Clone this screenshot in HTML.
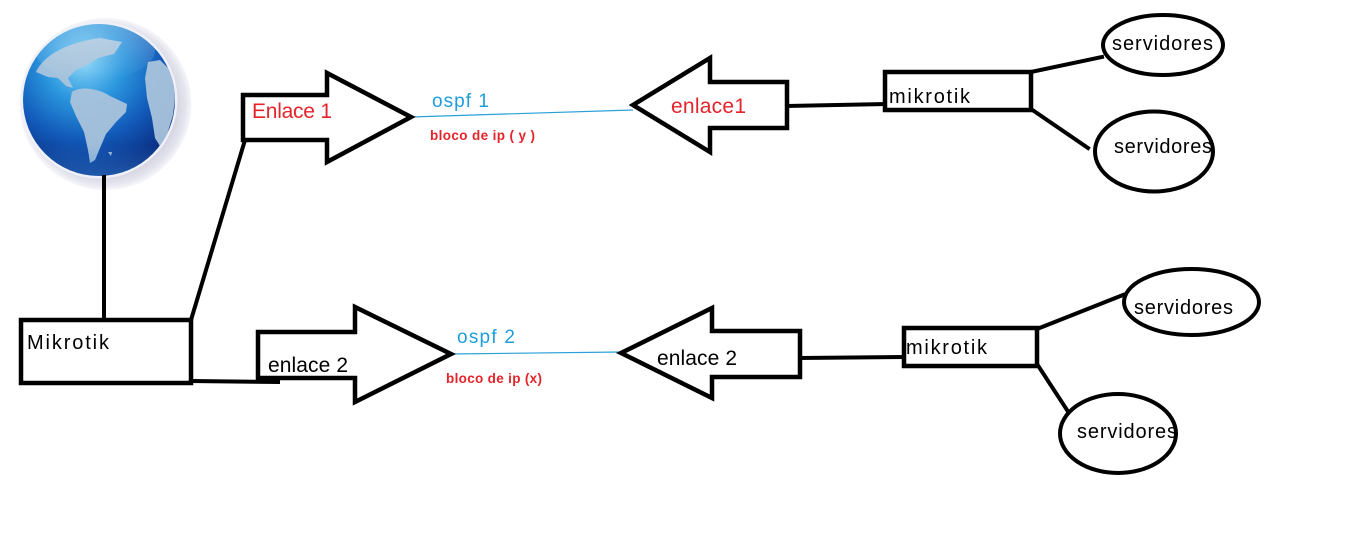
<!DOCTYPE html>
<html>
<head>
<meta charset="utf-8">
<style>
  html, body { margin:0; padding:0; background:#ffffff; }
  body { width:1360px; height:557px; overflow:hidden; }
  svg { display:block; }
  .lbl { font-family: "Liberation Sans", sans-serif; }
</style>
</head>
<body>
<svg width="1360" height="557" viewBox="0 0 1360 557" xmlns="http://www.w3.org/2000/svg">
  <defs>
    <radialGradient id="sph" cx="0.4" cy="0.25" r="0.82">
      <stop offset="0" stop-color="#86d4f7"/>
      <stop offset="0.32" stop-color="#2a96de"/>
      <stop offset="0.62" stop-color="#125ab9"/>
      <stop offset="0.88" stop-color="#0b3288"/>
      <stop offset="1" stop-color="#0a2a74"/>
    </radialGradient>
    <radialGradient id="halo" cx="0.5" cy="0.5" r="0.5">
      <stop offset="0.8" stop-color="#d2d2e0"/>
      <stop offset="0.93" stop-color="#e4e4ee"/>
      <stop offset="1" stop-color="#f6f6fa"/>
    </radialGradient>
    <linearGradient id="gloss" x1="0" y1="0" x2="0" y2="1">
      <stop offset="0" stop-color="#ffffff" stop-opacity="0.3"/>
      <stop offset="1" stop-color="#ffffff" stop-opacity="0"/>
    </linearGradient>
    <linearGradient id="bottomGlow" x1="0" y1="0" x2="0" y2="1">
      <stop offset="0" stop-color="#3a8ee0" stop-opacity="0"/>
      <stop offset="1" stop-color="#3f9ae8" stop-opacity="0.45"/>
    </linearGradient>
    <clipPath id="globeClip"><circle cx="99" cy="100" r="76"/></clipPath>
  </defs>

  <!-- Globe -->
  <circle cx="105.5" cy="104" r="86" fill="url(#halo)"/>
  <circle cx="99" cy="100" r="78.5" fill="#f0f0f8"/>
  <circle cx="99" cy="100" r="76" fill="url(#sph)"/>
  <g clip-path="url(#globeClip)" fill="#a9c3dc" opacity="0.95">
    <path d="M36,72 C44,54 70,42 100,38 L122,42 L114,54 L98,58 L86,66 L76,70 L68,78 L73,88 L66,86 L58,78 L48,77 Z"/>
    <path d="M58,66 L64,64 L68,68 L62,70 Z"/>
    <path d="M72,92 C80,86 98,88 110,96 L127,104 L126,112 L116,122 L106,134 L100,148 L95,160 L90,163 L88,150 L84,132 L76,116 L70,102 Z"/>
    <path d="M148,62 L160,60 L170,70 L176,90 L173,115 L166,138 L160,146 L155,138 L152,118 L147,98 L145,78 Z"/>
    <path d="M108,152 L112,152 L111,156 Z"/>
  </g>
  <g clip-path="url(#globeClip)">
    <ellipse cx="95" cy="50" rx="60" ry="30" fill="url(#gloss)"/>
    <rect x="20" y="145" width="160" height="35" fill="url(#bottomGlow)"/>
  </g>

  <!-- Lines (black connectors) -->
  <g stroke="#000" stroke-width="4" fill="none" stroke-linecap="square">
    <line x1="104" y1="177" x2="104" y2="320"/>
    <line x1="191" y1="320" x2="245" y2="140"/>
    <line x1="191" y1="381" x2="278" y2="382"/>
    <line x1="787" y1="106" x2="885" y2="104"/>
    <line x1="800" y1="358" x2="904" y2="357"/>
    <line x1="1031" y1="72" x2="1102" y2="57"/>
    <line x1="1031" y1="109" x2="1088" y2="148"/>
    <line x1="1037" y1="329" x2="1123" y2="295"/>
    <line x1="1037" y1="364" x2="1067" y2="410"/>
  </g>

  <!-- Blue ospf lines -->
  <g stroke="#29a0d8" stroke-width="1.2" fill="none">
    <line x1="411" y1="117" x2="633" y2="110"/>
    <line x1="451" y1="354" x2="621" y2="352"/>
  </g>

  <!-- Boxes -->
  <g stroke="#000" stroke-width="4.5" fill="#fff">
    <rect x="21" y="320" width="170" height="63"/>
    <rect x="885" y="72" width="146" height="38"/>
    <rect x="904" y="328" width="133" height="38"/>
  </g>

  <!-- Block arrows -->
  <g stroke="#000" stroke-width="4.5" fill="#fff" stroke-linejoin="miter" stroke-miterlimit="10">
    <polygon points="243,95 327,95 327,73 411,117 327,162 327,140 243,140"/>
    <polygon points="633,105 710,58 710,82 787,82 787,128 710,128 710,152"/>
    <polygon points="258,332 355,332 355,307 451,354 355,402 355,378 258,378"/>
    <polygon points="621,353 712,308 712,331 800,331 800,377 712,377 712,398"/>
  </g>

  <!-- Ellipses -->
  <g stroke="#000" stroke-width="4" fill="#fff">
    <ellipse cx="1163" cy="45" rx="60" ry="30"/>
    <ellipse cx="1154" cy="151.5" rx="59" ry="40"/>
    <ellipse cx="1191.5" cy="302" rx="67.5" ry="33"/>
    <ellipse cx="1118" cy="433.5" rx="58" ry="39.5"/>
  </g>

  <!-- Labels -->
  <g class="lbl" font-family="Liberation Sans, sans-serif">
    <text x="27" y="349" font-size="20" fill="#000" textLength="82" lengthAdjust="spacing">Mikrotik</text>
    <text x="252" y="118" font-size="21" fill="#e3242b" textLength="80" lengthAdjust="spacing">Enlace 1</text>
    <text x="432" y="107" font-size="19" fill="#1d9ddc" textLength="57" lengthAdjust="spacing">ospf 1</text>
    <text x="430" y="140" font-size="13.5" font-weight="bold" fill="#e3242b" textLength="105" lengthAdjust="spacing">bloco de ip ( y )</text>
    <text x="671" y="113" font-size="21" fill="#e3242b" textLength="75" lengthAdjust="spacing">enlace1</text>
    <text x="889" y="103" font-size="20" fill="#000" textLength="81" lengthAdjust="spacing">mikrotik</text>
    <text x="1112" y="50" font-size="20" fill="#000" textLength="101" lengthAdjust="spacing">servidores</text>
    <text x="1114" y="153" font-size="20" fill="#000" textLength="98" lengthAdjust="spacing">servidores</text>

    <text x="268" y="372" font-size="21" fill="#000" textLength="80" lengthAdjust="spacing">enlace 2</text>
    <text x="457" y="343" font-size="19" fill="#1d9ddc" textLength="58" lengthAdjust="spacing">ospf 2</text>
    <text x="446" y="383" font-size="13.5" font-weight="bold" fill="#e3242b" textLength="96" lengthAdjust="spacing">bloco de ip (x)</text>
    <text x="657" y="365" font-size="21" fill="#000" textLength="80" lengthAdjust="spacing">enlace 2</text>
    <text x="906" y="354" font-size="20" fill="#000" textLength="81" lengthAdjust="spacing">mikrotik</text>
    <text x="1134" y="314" font-size="20" fill="#000" textLength="99" lengthAdjust="spacing">servidores</text>
    <text x="1077" y="438" font-size="20" fill="#000" textLength="100" lengthAdjust="spacing">servidores</text>
  </g>
</svg>
</body>
</html>
